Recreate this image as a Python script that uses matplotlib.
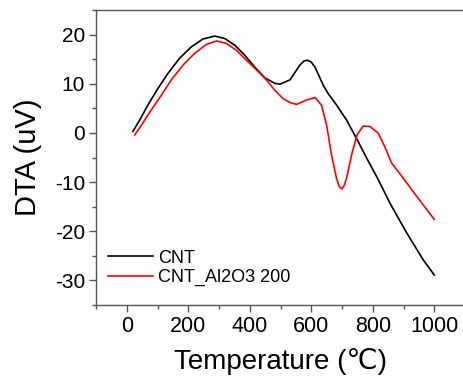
import matplotlib
matplotlib.use("Agg")
import matplotlib.pyplot as plt
from matplotlib.ticker import MultipleLocator

plt.rcParams['font.family'] = ['Liberation Sans', 'DejaVu Sans']
plt.rcParams['axes.unicode_minus'] = False

# CNT curve
cnt_temp = [20, 42, 69, 102, 134, 172, 210, 248, 286, 319, 352, 384, 416, 449, 481,
            498, 531, 563, 576, 587, 600, 612, 639, 655, 682, 715, 747, 780, 818,
            856, 910, 964, 1000]
cnt_dta = [0.3, 2.6, 5.7, 9.1, 12.1, 15.2, 17.5, 19.1, 19.7, 19.2, 17.8, 15.8, 13.4,
           11.2, 10.1, 9.9, 10.8, 13.8, 14.6, 14.8, 14.4, 13.4, 9.7, 8.0, 5.7, 2.6,
           -1.1, -5.1, -9.5, -14.3, -20.3, -25.8, -28.9]

# CNT_Al2O3 200 curve
al_temp = [26, 48, 80, 113, 145, 183, 221, 259, 292, 324, 357, 389, 422, 454, 481,
           508, 530, 552, 585, 612, 633, 650, 666, 682, 690, 699, 707, 715, 731, 749,
           769, 791, 818, 839, 861, 899, 943, 1000]
al_dta = [-0.4, 1.6, 4.7, 7.7, 10.8, 13.8, 16.2, 18.0, 18.7, 18.2, 16.8, 14.8, 12.8,
          10.8, 8.7, 7.0, 6.2, 5.8, 6.7, 7.2, 5.7, 1.6, -4.5, -9.2, -10.8, -11.4,
          -10.7, -9.2, -4.5, -0.4, 1.4, 1.3, -0.06, -2.8, -6.1, -9.2, -12.9, -17.6]

labels = ["CNT", "CNT_Al2O3 200"]

fig = plt.figure(figsize=(4.63, 3.85), dpi=100)
ax = fig.add_axes([96 / 463, 80 / 385, 369 / 463, 295 / 385])

ax.plot(cnt_temp, cnt_dta, color="black", lw=1.2, label=labels[0])
ax.plot(al_temp, al_dta, color="red", lw=1.2, label=labels[1])

ax.set_xlim(-100, 1100)
ax.set_ylim(-35, 25)
ax.xaxis.set_major_locator(MultipleLocator(200))
ax.xaxis.set_minor_locator(MultipleLocator(100))
ax.yaxis.set_major_locator(MultipleLocator(10))
ax.yaxis.set_minor_locator(MultipleLocator(5))

for s in ax.spines.values():
    s.set_color("#555555")
    s.set_linewidth(1.0)
ax.spines["right"].set_visible(False)

ax.tick_params(which="both", direction="out", color="#555555", top=False, right=False)
ax.tick_params(which="major", length=5, width=1.0, pad=3)
ax.tick_params(which="minor", length=3, width=1.0)
ax.tick_params(axis="x", labelsize=15.5)
ax.tick_params(axis="y", labelsize=15)

ax.set_xlabel("Temperature (℃)", fontsize=20, labelpad=8)
ax.set_ylabel("DTA (uV)", fontsize=21, labelpad=9)

ax.legend(loc="center left", bbox_to_anchor=(108 / 463, 1 - 268 / 385),
          bbox_transform=fig.transFigure, frameon=False, fontsize=13,
          handlelength=2.5, handletextpad=0.25, labelspacing=0.15, borderpad=0,
          borderaxespad=0)

fig.savefig("out.png", dpi=100)
